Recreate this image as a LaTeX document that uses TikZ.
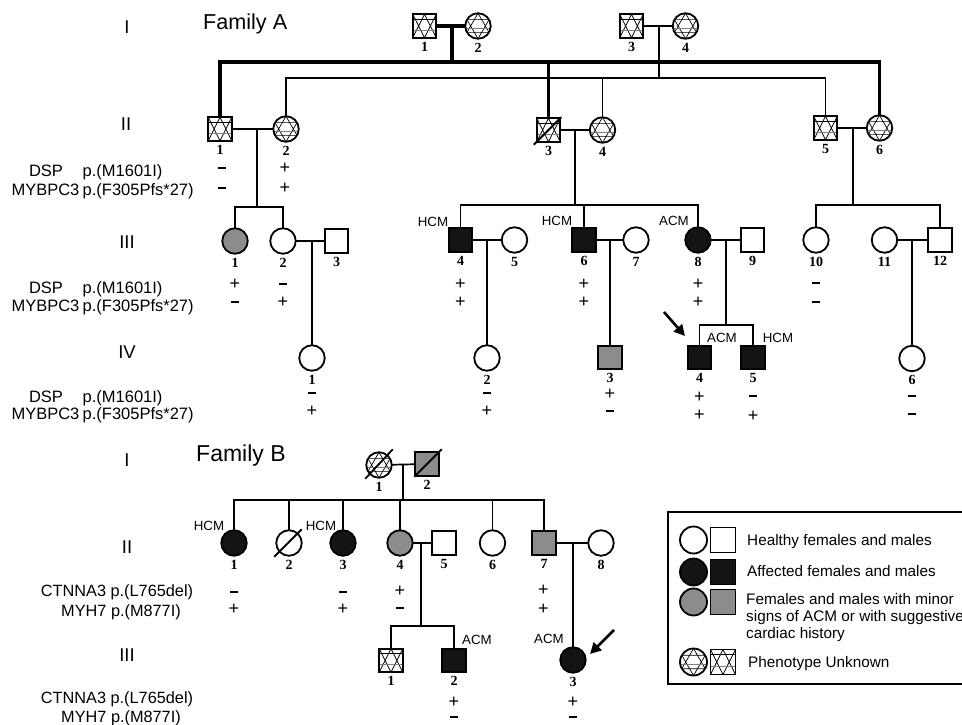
\documentclass[tikz,border=0pt]{standalone}
\usepackage{fontspec}
\setmainfont{Liberation Sans}
\newfontfamily\numfont{Liberation Serif}
\usetikzlibrary{calc,arrows.meta}
\newcounter{sgc}
\newcommand{\sgn}[3]{\stepcounter{sgc}\node[sgnst] (sg\arabic{sgc}) at (#1,#2) {#3};}
\newcommand{\sgpair}[5]{\sgn{#1}{#2}{#4}\sgn{#1}{#3}{#5}}
\newcommand{\sgP}{+}
\newcommand{\sgM}{\rule{8pt}{2.8pt}}
\newcommand{\ind}[5]{\node[#1,label={[num]below:#5}] (#2) at (#3,#4) {};}
\tikzset{
  symb/.style={draw, line width=1.8pt, inner sep=0pt, outer sep=0pt, fill=white},
  sq/.style={symb, rectangle, minimum size=23.5pt},
  ci/.style={symb, circle, minimum size=25.5pt},
  aff/.style={fill=black!92},
  mnr/.style={fill=black!45},
  unkS/.style={path picture={
     \draw[line width=0.7pt] (path picture bounding box.north west) -- (path picture bounding box.south) -- (path picture bounding box.north east)
        (path picture bounding box.south west) -- (path picture bounding box.north) -- (path picture bounding box.south east);
     \draw[line width=0.7pt] ($(path picture bounding box.north west)!0.2!(path picture bounding box.south west)$) -- ($(path picture bounding box.north east)!0.2!(path picture bounding box.south east)$);
     \draw[gray, line width=0.8pt] ($(path picture bounding box.north west)!0.68!(path picture bounding box.south west)$) -- ($(path picture bounding box.north east)!0.68!(path picture bounding box.south east)$);
  }},
  unkC/.style={path picture={
     \draw[line width=0.7pt, shift={(path picture bounding box.center)}]
        (0,-#1) -- (0.866*#1,0.5*#1) -- (-0.866*#1,0.5*#1) -- cycle
        (0,#1) -- (0.866*#1,-0.5*#1) -- (-0.866*#1,-0.5*#1) -- cycle;
     \draw[gray, line width=0.8pt, shift={(path picture bounding box.center)}] (-#1,0.15*#1) -- (#1,0.15*#1);
  }},
  unkC/.default=12.75,
  num/.style={font=\numfont\bfseries\fontsize{14}{14}\selectfont, inner sep=0pt, label distance=4pt},
  sgnst/.style={font=\fontsize{18}{18}\selectfont, inner sep=0pt},
  ln/.style={line width=1.7pt},
  tk/.style={line width=3.3pt},
  slash/.style={line width=1.8pt},
  roman/.style={font=\fontsize{18.5}{18.5}\selectfont, inner sep=0pt},
  dis/.style={font=\fontsize{13.3}{13.3}\selectfont, inner sep=0pt},
  gene/.style={font=\fontsize{16.5}{16.5}\selectfont, inner sep=0pt},
  geneB/.style={font=\fontsize{16.3}{16.3}\selectfont, inner sep=0pt},
  fam/.style={font=\fontsize{21.6}{21.6}\selectfont, inner sep=0pt},
  leg/.style={font=\fontsize{15.3}{15.3}\selectfont, inner sep=0pt},
  proband/.style={line width=2.6pt, -{Triangle[length=11pt,width=11pt]}},
}
\begin{document}
\begin{tikzpicture}[x=1pt,y=-1pt]
\useasboundingbox (0,0) rectangle (962,725);
\clip (0,0) rectangle (962,725);
\fill[white] (0,0) rectangle (962,725);

% ================= FAMILY A =================
\node[fam, anchor=base west] (famA) at (203,29.5) {Family A};
\node[roman] (rAI) at (127,27) {I};
\node[roman] (rAII) at (126,124) {II};
\node[roman] (rAIII) at (127,242) {III};
\node[roman] (rAIV) at (127,352) {IV};

% Generation I
\ind{sq,unkS}{AI1}{424.5}{26}{1}
\ind{ci,unkC}{AI2}{478}{26}{2}
\ind{sq,unkS}{AI3}{631.5}{26}{3}
\ind{ci,unkC}{AI4}{685.5}{26}{4}

% Generation II
\ind{sq,unkS}{AII1}{220}{129}{1}
\ind{ci,unkC}{AII2}{286}{129}{2}
\ind{sq,unkS}{AII3}{548.5}{130}{3}
\ind{ci,unkC}{AII4}{602.5}{130}{4}
\ind{sq,unkS}{AII5}{825.5}{128}{5}
\ind{ci,unkC}{AII6}{879.5}{128}{6}
\draw[slash] ($(AII3.south west)+(-3,3)$) -- ($(AII3.north east)+(1,-1)$);

% Generation III
\ind{ci,mnr}{AIII1}{235}{241}{1}
\ind{ci}{AIII2}{283}{241}{2}
\ind{sq}{AIII3}{336.5}{241}{3}
\ind{sq,aff}{AIII4}{460.5}{240}{4}
\ind{ci}{AIII5}{514.5}{240}{5}
\ind{sq,aff}{AIII6}{584}{240}{6}
\ind{ci}{AIII7}{636}{240}{7}
\ind{ci,aff}{AIII8}{698}{240}{8}
\ind{sq}{AIII9}{752.5}{240}{9}
\ind{ci}{AIII10}{816}{240}{10}
\ind{ci}{AIII11}{884.5}{240}{11}
\ind{sq}{AIII12}{940}{240}{12}

% Generation IV
\ind{ci}{AIV1}{312}{358}{1}
\ind{ci}{AIV2}{487}{358}{2}
\ind{sq,mnr}{AIV3}{610}{357.5}{3}
\ind{sq,aff}{AIV4}{699.5}{357.5}{4}
\ind{sq,aff}{AIV5}{753}{357.5}{5}
\ind{ci}{AIV6}{912}{358.5}{6}

% Lines generation I -> II
\draw[tk] (AI1) -- (AI2);
\coordinate (mAI12) at (452,26);
\coordinate (sAI12) at (452,62);
\draw[tk] (mAI12) -- (sAI12);
\draw[tk] (AII1.north) -- (AII1.north |- sAI12) -- (AII6.north |- sAI12) -- (AII6.north);
\draw[tk] (AII3.north) -- (AII3.north |- sAI12);

\draw[ln] (AI3) -- (AI4);
\coordinate (mAI34) at (659,26);
\coordinate (sAI34) at (659,78);
\draw[ln] (mAI34) -- (sAI34);
\draw[ln] (AII2.north) -- (AII2.north |- sAI34) -- (AII5.north |- sAI34) -- (AII5.north);
\draw[ln] (AII4.north) -- (AII4.north |- sAI34);

% Lines generation II -> III
\draw[ln] (AII1) -- (AII2);
\coordinate (mAII12) at (257,129);
\coordinate (sAII12) at (257,207);
\draw[ln] (mAII12) -- (sAII12);
\draw[ln] (AIII1.north) -- (AIII1.north |- sAII12) -- (AIII2.north |- sAII12) -- (AIII2.north);

\draw[ln] (AII3) -- (AII4);
\coordinate (mAII34) at (575,130);
\coordinate (sAII34) at (575,205);
\draw[ln] (mAII34) -- (sAII34);
\draw[ln] (AIII4.north) -- (AIII4.north |- sAII34) -- (AIII8.north |- sAII34) -- (AIII8.north);
\draw[ln] (AIII6.north) -- (AIII6.north |- sAII34);

\draw[ln] (AII5) -- (AII6);
\coordinate (mAII56) at (853,128);
\coordinate (sAII56) at (853,205);
\draw[ln] (mAII56) -- (sAII56);
\draw[ln] (AIII10.north) -- (AIII10.north |- sAII56) -- (AIII12.north |- sAII56) -- (AIII12.north);

% Lines generation III -> IV
\draw[ln] (AIII2) -- (AIII3);
\coordinate (mAIII23) at (312,241);
\draw[ln] (mAIII23) -- (AIV1.north);
\draw[ln] (AIII4) -- (AIII5);
\coordinate (mAIII45) at (487,240);
\draw[ln] (mAIII45) -- (AIV2.north);
\draw[ln] (AIII6) -- (AIII7);
\coordinate (mAIII67) at (610,240);
\draw[ln] (mAIII67) -- (AIV3.north);
\draw[ln] (AIII8) -- (AIII9);
\coordinate (mAIII89) at (726,240);
\coordinate (sAIII89) at (726,325);
\draw[ln] (mAIII89) -- (sAIII89);
\draw[ln] (AIV4.north) -- (AIV4.north |- sAIII89) -- (AIV5.north |- sAIII89) -- (AIV5.north);
\draw[ln] (AIII11) -- (AIII12);
\coordinate (mAIII1112) at (912,240);
\draw[ln] (mAIII1112) -- (AIV6.north);

% disease labels
\node[dis] (dA1) at (433,222) {HCM};
\node[dis] (dA2) at (557,221) {HCM};
\node[dis] (dA3) at (674,221) {ACM};
\node[dis] (dA4) at (722,338) {ACM};
\node[dis] (dA5) at (778,338) {HCM};

% proband arrow A
\coordinate (arrA0) at (664,312);
\coordinate (arrA1) at (685,336);
\draw[proband] (arrA0) -- (arrA1);

% gene labels A
\node[gene, anchor=base] (gA1) at (46,176) {DSP};
\node[gene, anchor=base west] (gA1p) at (82.5,176) {p.(M1601I)};
\node[gene, anchor=base] (gA2) at (45.5,195) {MYBPC3};
\node[gene, anchor=base west] (gA2p) at (82.5,195) {p.(F305Pfs*27)};
\node[gene, anchor=base] (gA3) at (46,293) {DSP};
\node[gene, anchor=base west] (gA3p) at (82.5,293) {p.(M1601I)};
\node[gene, anchor=base] (gA4) at (45.5,311) {MYBPC3};
\node[gene, anchor=base west] (gA4p) at (82.5,311) {p.(F305Pfs*27)};
\node[gene, anchor=base] (gA5) at (46,402) {DSP};
\node[gene, anchor=base west] (gA5p) at (82.5,402) {p.(M1601I)};
\node[gene, anchor=base] (gA6) at (45.5,419) {MYBPC3};
\node[gene, anchor=base west] (gA6p) at (82.5,419) {p.(F305Pfs*27)};

% signs A
\sgpair{222}{168}{188}{\sgM}{\sgM}
\sgpair{285}{168}{188}{\sgP}{\sgP}
\sgpair{235}{284}{302}{\sgP}{\sgM}
\sgpair{283}{284}{302}{\sgM}{\sgP}
\sgpair{460.5}{284}{302}{\sgP}{\sgP}
\sgpair{584}{284}{302}{\sgP}{\sgP}
\sgpair{698}{284}{302}{\sgP}{\sgP}
\sgpair{816}{283}{302}{\sgM}{\sgM}
\sgpair{312}{393}{411}{\sgM}{\sgP}
\sgpair{487}{393}{411}{\sgM}{\sgP}
\sgpair{610}{394}{411}{\sgP}{\sgM}
\sgpair{699.5}{397}{415}{\sgP}{\sgP}
\sgpair{753}{396}{416}{\sgM}{\sgP}
\sgpair{912}{396}{414}{\sgM}{\sgM}

% ================= FAMILY B =================
\node[fam, anchor=base west, font=\fontsize{23}{23}\selectfont] (famB) at (196,461.5) {Family B};
\node[roman] (rBI) at (127,460) {I};
\node[roman] (rBII) at (127,547) {II};
\node[roman] (rBIII) at (127,655) {III};

\ind{ci,unkC}{BI1}{379}{465}{1}
\ind{sq,mnr}{BI2}{427}{464}{2}
\draw[slash] ($(BI1.south -| BI1.west)+(-1,1)$) -- ($(BI1.north -| BI1.east)+(1,-3)$);
\draw[slash] ($(BI2.south west)+(-1,1)$) -- ($(BI2.north east)+(3,-3)$);

\ind{ci,aff}{BII1}{234}{543}{1}
\ind{ci}{BII2}{289}{543}{2}
\draw[slash] ($(BII2.south -| BII2.west)+(-2,1)$) -- ($(BII2.north -| BII2.east)+(0,-1)$);
\ind{ci,aff}{BII3}{343}{543}{3}
\ind{ci,mnr}{BII4}{400}{543}{4}
\ind{sq}{BII5}{444}{543}{5}
\ind{ci}{BII6}{492.5}{543}{6}
\ind{sq,mnr}{BII7}{544}{543}{7}
\ind{ci}{BII8}{601}{543}{8}

\ind{sq,unkS}{BIII1}{391}{660.5}{1}
\ind{sq,aff}{BIII2}{454}{660.5}{2}
\ind{ci,aff}{BIII3}{573}{660}{3}

\draw[ln] (BI1) -- (BI2);
\coordinate (mBI12) at (403,464.5);
\coordinate (sBI12) at (403,500);
\draw[ln] (mBI12) -- (sBI12);
\draw[ln] (BII1.north) -- (BII1.north |- sBI12) -- (BII7.north |- sBI12) -- (BII7.north);
\draw[ln] (BII2.north) -- (BII2.north |- sBI12);
\draw[ln] (BII3.north) -- (BII3.north |- sBI12);
\draw[ln] (BII4.north) -- (BII4.north |- sBI12);
\draw[ln] (BII6.north) -- (BII6.north |- sBI12);

\draw[ln] (BII4) -- (BII5);
\coordinate (mBII45) at (421,543);
\coordinate (sBII45) at (421,626);
\draw[ln] (mBII45) -- (sBII45);
\draw[ln] (BIII1.north) -- (BIII1.north |- sBII45) -- (BIII2.north |- sBII45) -- (BIII2.north);

\draw[ln] (BII7) -- (BII8);
\coordinate (mBII78) at (573,543);
\draw[ln] (mBII78) -- (BIII3.north);

\node[dis] (dB1) at (209,526) {HCM};
\node[dis] (dB2) at (321,526) {HCM};
\node[dis] (dB3) at (477,640) {ACM};
\node[dis] (dB4) at (549,639) {ACM};

\coordinate (arrB0) at (614,630);
\coordinate (arrB1) at (590,654);
\draw[proband] (arrB0) -- (arrB1);

\node[geneB, anchor=base] (gB1) at (117,596) {CTNNA3 p.(L765del)};
\node[geneB, anchor=base] (gB2) at (121,616) {MYH7 p.(M877I)};
\node[geneB, anchor=base] (gB3) at (117,703) {CTNNA3 p.(L765del)};
\node[geneB, anchor=base] (gB4) at (121,722) {MYH7 p.(M877I)};

\sgpair{234}{592}{609}{\sgM}{\sgP}
\sgpair{343}{592}{609}{\sgM}{\sgP}
\sgpair{400}{591}{608}{\sgP}{\sgM}
\sgpair{543.5}{590}{609}{\sgP}{\sgP}
\sgpair{454}{702}{717}{\sgP}{\sgM}
\sgpair{573}{702}{717}{\sgP}{\sgM}

% ================= LEGEND =================
\draw[line width=2.2pt] (668,512) rectangle (975,684);
\node[ci, minimum size=27pt] (L1c) at (693.5,540) {};
\node[sq, minimum size=25pt] (L1s) at (723,540) {};
\node[ci, aff, minimum size=27pt] (L2c) at (693.5,572) {};
\node[sq, aff, minimum size=25pt] (L2s) at (723,572) {};
\node[ci, mnr, minimum size=27pt] (L3c) at (693.5,602) {};
\node[sq, mnr, minimum size=25pt] (L3s) at (723,602) {};
\node[ci, unkC=13.5, minimum size=27pt] (L4c) at (693.5,662) {};
\node[sq, unkS, minimum size=25pt] (L4s) at (723,662) {};
\node[leg, anchor=base west] (lt1) at (747,545) {Healthy females and males};
\node[leg, anchor=base west] (lt2) at (747,576) {Affected females and males};
\node[leg, anchor=base west] (lt3a) at (746,604) {Females and males with minor};
\node[leg, anchor=base west] (lt3b) at (746,621.5) {signs of ACM or with suggestive};
\node[leg, anchor=base west] (lt3c) at (746,638.5) {cardiac history};
\node[leg, anchor=base west] (lt4) at (748,667) {Phenotype Unknown};
\end{tikzpicture}
\end{document}
